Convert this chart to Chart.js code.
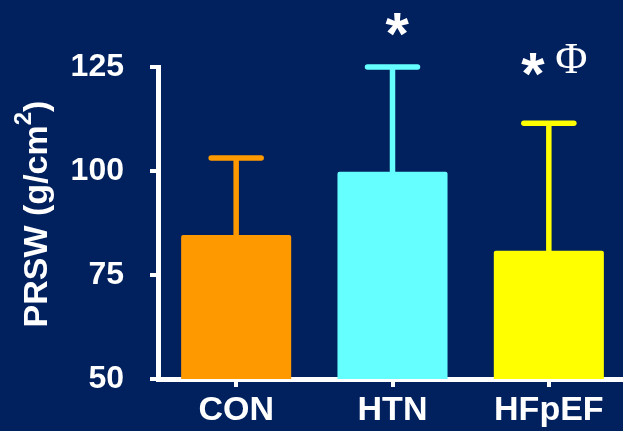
<!DOCTYPE html>
<html>
<head>
<meta charset="utf-8">
<script src="https://cdn.jsdelivr.net/npm/chart.js@4"></script>
<style>
    html, body { margin: 0; padding: 0; background: #01205e; overflow: hidden; }
    #wrap { width: 630px; height: 431px; position: relative; }
</style>
</head>
<body>
<div id="wrap"><canvas id="chart"></canvas></div>
<script>
// data
const groups = ['CON', 'HTN', 'HFpEF'];
const prswMean = [84.6, 99.8, 80.8];
const prswErrTop = [103.1, 125, 111.5];
const barColors = ['#ff9900', '#66ffff', '#ffff00'];
const sigMarks = ['', '*', '*'];
const sigExtra = ['', '', 'Φ'];
const sigLevel = [null, 135.3, 125.7];
const yTicks = [50, 75, 100, 125];

const WHITE = '#ffffff';
const SANS = '"Liberation Sans", Arial, sans-serif';
const SERIF = '"Liberation Serif", "Times New Roman", serif';

// draws the one-sided (upward) error bars
const errorBarPlugin = {
    id: 'errorBars',
    afterDatasetsDraw(chart) {
        const ctx = chart.ctx,
            yScale = chart.scales.y,
            meta = chart.getDatasetMeta(0);

        ctx.save();
        meta.data.forEach((bar, i) => {
            const x = bar.x,
                yTop = yScale.getPixelForValue(prswMean[i]),
                yErr = yScale.getPixelForValue(prswErrTop[i]);

            ctx.strokeStyle = barColors[i];
            ctx.lineWidth = 5.5;
            ctx.lineCap = 'butt';
            ctx.beginPath();
            ctx.moveTo(x, yTop + 1);
            ctx.lineTo(x, yErr);
            ctx.stroke();

            ctx.lineCap = 'round';
            ctx.beginPath();
            ctx.moveTo(x - 25, yErr);
            ctx.lineTo(x + 25, yErr);
            ctx.stroke();
        });
        ctx.restore();
    }
};

// significance marks above the bars
const sigPlugin = {
    id: 'sigMarks',
    afterDraw(chart) {
        const ctx = chart.ctx,
            yScale = chart.scales.y,
            meta = chart.getDatasetMeta(0),
            starFont = `bold 60px ${SANS}`,
            extraFont = `44px ${SERIF}`;

        ctx.save();
        ctx.fillStyle = WHITE;
        ctx.textAlign = 'left';
        ctx.textBaseline = 'alphabetic';
        meta.data.forEach((bar, i) => {
            if (!sigMarks[i]) {
                return;
            }
            const yc = yScale.getPixelForValue(sigLevel[i]);

            ctx.font = starFont;
            const sm = ctx.measureText(sigMarks[i]),
                starW = sm.actualBoundingBoxLeft + sm.actualBoundingBoxRight;
            let em = null, extraW = 0, gap = 0;
            if (sigExtra[i]) {
                ctx.font = extraFont;
                em = ctx.measureText(sigExtra[i]);
                extraW = em.actualBoundingBoxLeft + em.actualBoundingBoxRight;
                gap = 11;
            }
            const left = bar.x + 5 - (starW + gap + extraW) / 2;

            ctx.font = starFont;
            ctx.fillText(sigMarks[i], left + sm.actualBoundingBoxLeft,
                yc + (sm.actualBoundingBoxAscent - sm.actualBoundingBoxDescent) / 2);

            if (em) {
                ctx.font = extraFont;
                ctx.fillText(sigExtra[i], left + starW + gap + em.actualBoundingBoxLeft,
                    yc - 5.5 + (em.actualBoundingBoxAscent - em.actualBoundingBoxDescent) / 2);
            }
        });
        ctx.restore();
    }
};

// y axis title with a real superscript
const yTitlePlugin = {
    id: 'yTitle',
    afterDraw(chart) {
        const ctx = chart.ctx,
            mainFont = `bold 34px ${SANS}`,
            supFont = `bold 24px ${SANS}`,
            partA = 'PRSW (g/cm',
            partSup = '2',
            partB = ')';

        ctx.save();
        ctx.fillStyle = WHITE;
        ctx.textAlign = 'left';
        ctx.textBaseline = 'alphabetic';
        ctx.font = mainFont;
        const wA = ctx.measureText(partA).width,
            wB = ctx.measureText(partB).width;
        ctx.font = supFont;
        const wSup = ctx.measureText(partSup).width;
        const total = wA + wSup + wB,
            centerY = (chart.chartArea.top + chart.chartArea.bottom) / 2 - 9;

        ctx.translate(47, centerY + total / 2);
        ctx.rotate(-Math.PI / 2);
        ctx.font = mainFont;
        ctx.fillText(partA, 0, 0);
        ctx.font = supFont;
        ctx.fillText(partSup, wA, -16);
        ctx.font = mainFont;
        ctx.fillText(partB, wA + wSup, 0);
        ctx.restore();
    }
};

new Chart(document.getElementById('chart'), {
    type: 'bar',
    data: {
        labels: groups,
        datasets: [{
            data: prswMean,
            backgroundColor: barColors,
            borderWidth: 0,
            borderRadius: 2,
            borderSkipped: 'bottom',
            barPercentage: 0.704,
            categoryPercentage: 1
        }]
    },
    options: {
        responsive: true,
        maintainAspectRatio: false,
        animation: false,
        layout: {
            padding: { top: 67, right: 3, bottom: 0, left: 0 }
        },
        plugins: {
            legend: { display: false },
            tooltip: { enabled: false }
        },
        scales: {
            x: {
                z: 1,
                afterFit: scale => { scale.height = 52; },
                grid: {
                    offset: false,
                    drawOnChartArea: false,
                    color: WHITE,
                    tickLength: 8,
                    lineWidth: 4
                },
                border: { display: true, color: WHITE, width: 5 },
                ticks: {
                    color: WHITE,
                    padding: 3,
                    font: { family: SANS, size: 34, weight: 'bold' }
                }
            },
            y: {
                z: 1,
                min: 50,
                max: 125,
                afterFit: scale => { scale.width = 158; },
                afterBuildTicks: scale => {
                    scale.ticks = yTicks.map(v => ({ value: v }));
                },
                grid: {
                    drawOnChartArea: false,
                    color: WHITE,
                    tickLength: 8,
                    lineWidth: 4
                },
                border: { display: true, color: WHITE, width: 5 },
                ticks: {
                    color: WHITE,
                    padding: 26,
                    font: { family: SANS, size: 32, weight: 'bold' }
                }
            }
        }
    },
    plugins: [errorBarPlugin, sigPlugin, yTitlePlugin]
});
</script>
</body>
</html>
